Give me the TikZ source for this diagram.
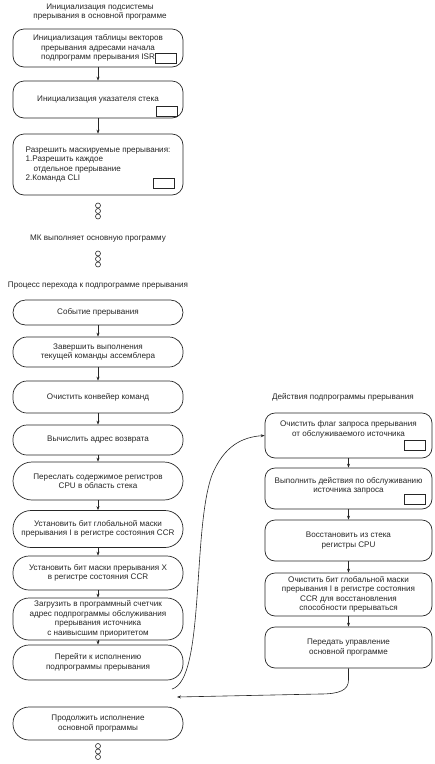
\documentclass[tikz,border=0pt]{standalone}
\usepackage{fontspec}
\setmainfont{Liberation Sans}
\usetikzlibrary{arrows.meta}
\begin{document}
\begin{tikzpicture}[x=1pt,y=-1pt,
  every node/.style={font=\fontsize{8.1}{9.5}\selectfont, inner sep=0pt, text=black!85},
  lbox/.style={draw=black!85, line width=0.7pt, rounded corners=14pt, minimum width=170pt, align=center},
  ibox/.style={draw=black!85, line width=0.7pt, rounded corners=11pt, minimum width=170pt, align=center},
  rbox/.style={draw=black!85, line width=0.7pt, rounded corners=10pt, minimum width=167pt, align=center},
  sq/.style={draw=black!85, line width=0.7pt, minimum width=21pt, minimum height=10pt},
  dot/.style={draw=black!85, line width=0.6pt, circle, minimum size=5pt},
  arr/.style={draw=black!85, line width=0.6pt, -{Stealth[length=4pt,width=3pt]}},
  ttl/.style={align=center}
]
\useasboundingbox (0,0) rectangle (435,764);

% ---- initialisation part
\node[ttl] (t1) at (100,12) {Инициализация подсистемы\\прерывания в основной программе};
\node[ibox, minimum height=38pt] (i1) at (98,48) {Инициализация таблицы векторов\\прерывания адресами начала\\подпрограмм прерывания ISR};
\node[sq] (s1) at (166,58.5) {};
\node[ibox, minimum height=37pt] (i2) at (98,99.5) {Инициализация указателя стека};
\node[sq] (s2) at (167,111.5) {};
\node[ibox, minimum height=61pt, align=left] (i3) at (98,164.5) {Разрешить маскируемые прерывания:\\1.Разрешить каждое\\\hspace*{8pt}отдельное прерывание\\2.Команда CLI};
\node[sq] (s3) at (163.5,183.5) {};
\draw[arr] (i1) -- (i2);
\draw[arr] (i2) -- (i3);

\node[dot] (d1) at (98,205.5) {};
\node[dot] (d2) at (98,211) {};
\node[dot] (d3) at (98,216.5) {};
\node (mk) at (98,239) {МК выполняет основную программу};
\node[dot] (d4) at (98,253.5) {};
\node[dot] (d5) at (98,259) {};
\node[dot] (d6) at (98,264.5) {};
\node (t2) at (98,286) {Процесс перехода к подпрограмме прерывания};

% ---- transition process
\node[lbox, minimum height=25pt, rounded corners=12.5pt] (ev) at (98,312.5) {Событие прерывания};
\node[lbox, minimum height=30pt] (fin) at (98,352) {Завершить выполнения\\текущей команды ассемблера};
\node[lbox, minimum height=32pt] (clr) at (98,397) {Очистить конвейер команд};
\node[lbox, minimum height=30pt] (calc) at (98,440) {Вычислить адрес возврата};
\node[lbox, minimum height=38pt, rounded corners=19pt] (push) at (98,481) {Переслать содержимое регистров\\CPU в область стека};
\node[lbox, minimum height=37pt, rounded corners=18pt] (seti) at (98,529) {Установить бит глобальной маски\\прерывания I в регистре состояния CCR};
\node[lbox, minimum height=34pt, rounded corners=16pt] (setx) at (98,573) {Установить бит маски прерывания X\\в регистре состояния CCR};
\node[lbox, minimum height=42pt, rounded corners=16pt] (load) at (98,619) {Загрузить в программный счетчик\\адрес подпрограммы обслуживания\\прерывания источника\\с наивысшим приоритетом};
\node[lbox, minimum height=35pt, rounded corners=16pt] (goto) at (98,662.5) {Перейти к исполнению\\подпрограммы прерывания};
\node[lbox, minimum height=33pt, rounded corners=16pt] (cont) at (98,723.5) {Продолжить исполнение\\основной программы};
\draw[arr] (ev) -- (fin);
\draw[arr] (fin) -- (clr);
\draw[arr] (clr) -- (calc);
\draw[arr] (calc) -- (push);
\draw[arr] (push) -- (seti);
\draw[arr] (seti) -- (setx);
\draw[arr] (setx) -- (load);
\draw[arr] (load) -- (goto);

\node[dot] (d7) at (98,746) {};
\node[dot] (d8) at (98,751.5) {};
\node[dot] (d9) at (98,757) {};

% ---- interrupt routine
\node (t3) at (343,397) {Действия подпрограммы прерывания};
\node[rbox, minimum height=45pt] (r1) at (348.5,435.5) {};
\node[align=center] (r1t) at (348.5,429.5) {Очистить флаг запроса прерывания\\от обслуживаемого источника};
\node[sq] (s4) at (415,445) {};
\node[rbox, minimum height=41pt] (r2) at (348.5,488.5) {};
\node[align=center] (r2t) at (348.5,486) {Выполнить действия по обслуживанию\\источника запроса};
\node[sq] (s5) at (415,499) {};
\node[rbox, minimum height=41pt] (r3) at (348.5,540.5) {Восстановить из стека\\регистры CPU};
\node[rbox, minimum height=43pt] (r4) at (348.5,594.5) {Очистить бит глобальной маски\\прерывания I в регистре состояния\\CCR для восстановления\\способности прерываться};
\node[rbox, minimum height=41pt] (r5) at (348.5,647.5) {Передать управление\\основной программе};
\draw[arr] (r1) -- (r2);
\draw[arr] (r2) -- (r3);
\draw[arr] (r3) -- (r4);
\draw[arr] (r4) -- (r5);

% ---- jumps
\coordinate (c1) at (172,689);
\coordinate (c2) at (177,697);
\draw[arr] (c1) .. controls (205,680) and (192,530) .. (212,475) .. controls (224,446) and (242,437) .. (r1.west);
\draw[arr] (r5.south) -- (348.5,680) .. controls (348.5,690) and (340,694) .. (320,694) -- (c2);
\end{tikzpicture}
\end{document}
